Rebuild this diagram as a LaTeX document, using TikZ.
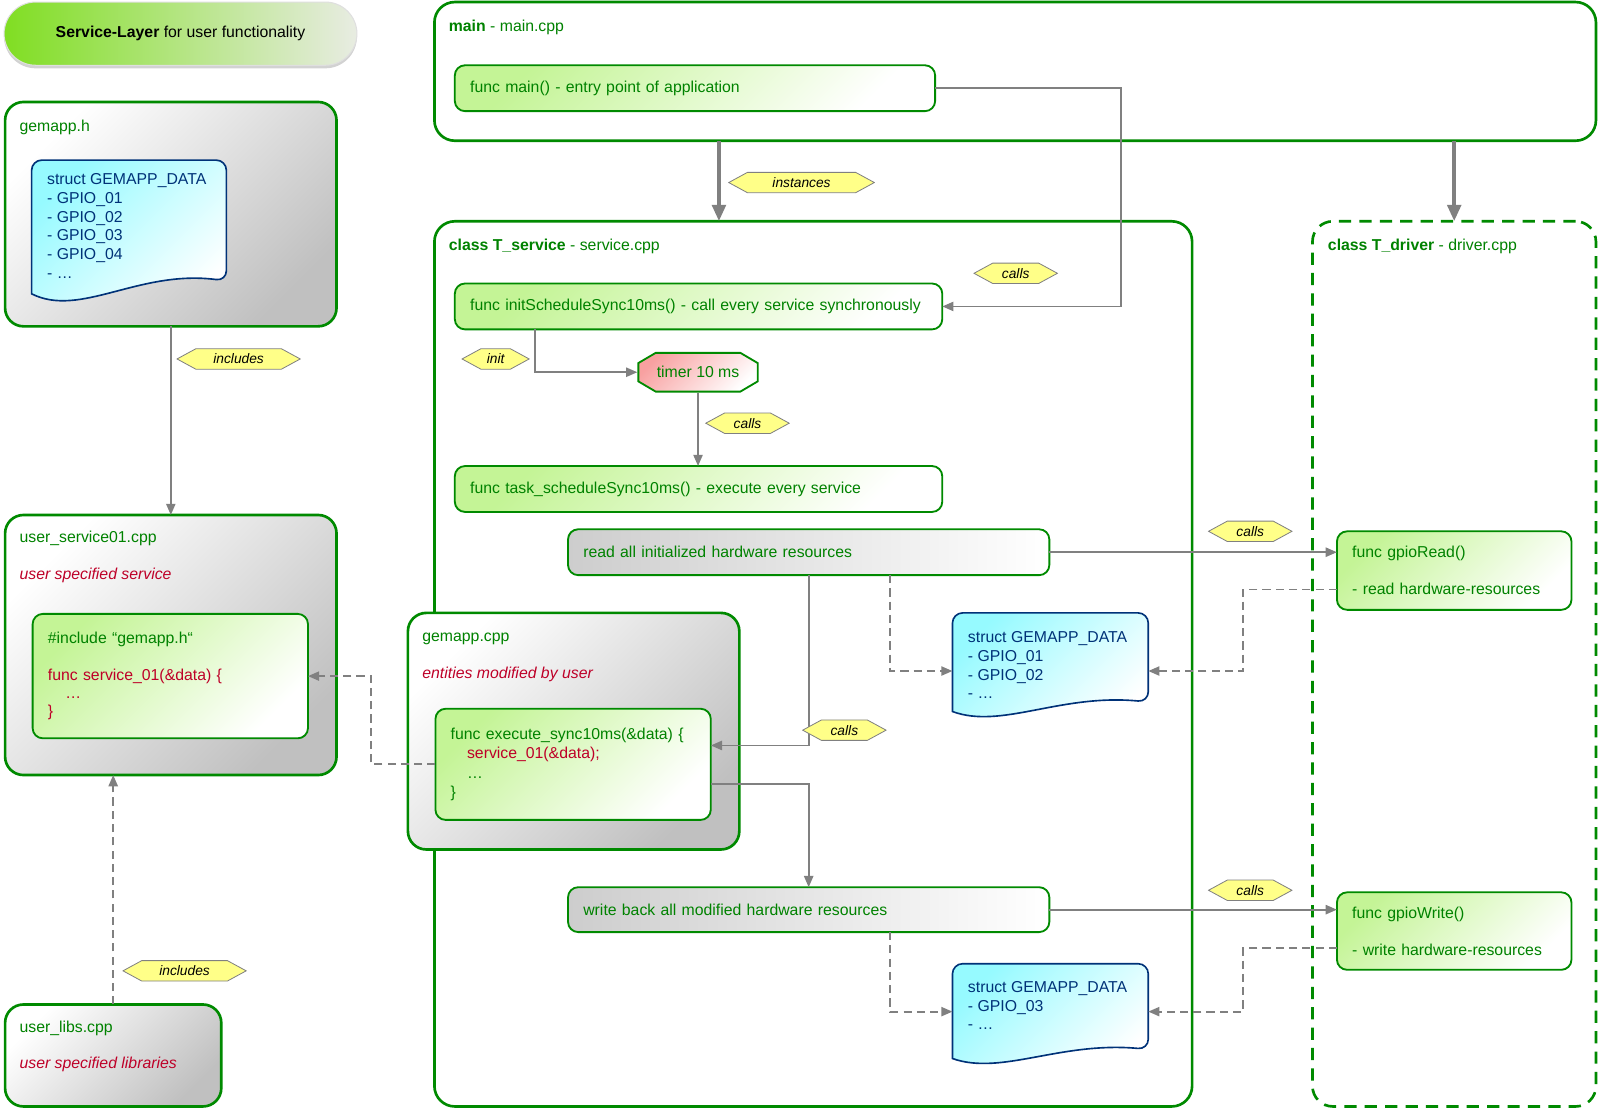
\documentclass[tikz,border=0pt]{standalone}
\usepackage{fontspec}
\setmainfont{Liberation Sans}
\usetikzlibrary{arrows.meta,shadows,calc}
\definecolor{grn}{RGB}{0,138,0}
\definecolor{txtgrn}{RGB}{0,130,0}
\definecolor{ured}{RGB}{190,0,40}
\definecolor{navy}{RGB}{0,50,120}
\definecolor{cyanf}{RGB}{150,250,255}
\definecolor{greenf}{RGB}{196,244,150}
\definecolor{grayf}{RGB}{192,192,192}
\definecolor{barf}{RGB}{205,205,205}
\definecolor{pinkf}{RGB}{248,160,160}
\definecolor{hexf}{RGB}{255,255,136}
\definecolor{connc}{RGB}{128,128,128}
\definecolor{titleL}{RGB}{128,222,34}
\definecolor{titleR}{RGB}{232,236,226}
\newcommand{\myfs}{\fontsize{15.5}{18}\selectfont}
\newcommand{\mylf}{\fontsize{13.5}{16}\selectfont\itshape}
\newcommand{\docshape}[3]{%
  \begin{scope}[shift={(#1.north west)}, x=#2pt, y=-#3pt]
    \shadedraw[draw=navy, line width=1.6pt, top color=cyanf, bottom color=white, shading angle=45]
      (0,0.93) [rounded corners=10pt] -- (0,0) -- (1,0) -- (1,0.84) [sharp corners]
      .. controls (0.55,0.76) and (0.25,1.1) .. (0,0.93) -- cycle;
  \end{scope}}
\tikzset{
  base/.style={inner sep=0pt, outer sep=0pt, anchor=north west},
  graybox/.style={base, rounded corners=18pt, draw=grn, line width=2.6pt, top color=white, bottom color=grayf, shading angle=45},
  container/.style={base, rounded corners=20pt, draw=grn, line width=2.6pt},
  funcbox/.style={base, rounded corners=10pt, draw=grn, line width=1.8pt, top color=greenf, bottom color=white, shading angle=45, inner xsep=15pt, align=left, font=\myfs, text=txtgrn},
  barbox/.style={base, rounded corners=10pt, draw=grn, line width=1.8pt, left color=barf, right color=white, inner xsep=15pt, align=left, font=\myfs, text=txtgrn},
  txt/.style={inner sep=0pt, anchor=west, font=\myfs, text=txtgrn, text height=11pt, text depth=3pt},
  utxt/.style={txt, text=ured, font=\myfs\itshape},
  doctxt/.style={inner sep=0pt, anchor=north west, align=left, font=\fontsize{15.5}{18.4}\selectfont, text=navy},
  connl/.style={draw=connc, line width=1.8pt, -{Triangle[length=11pt,width=9pt]}},
  dconn/.style={connl, dash pattern=on 8pt off 5pt},
  bigconn/.style={draw=connc, line width=4pt, -{Triangle[length=16pt,width=13pt]}},
  hexl/.style={inner sep=0pt, minimum height=21pt, font=\mylf, text=black,
    path picture={
      \draw[draw=connc, fill=hexf, line width=0.8pt]
        ([xshift=0.6pt]path picture bounding box.west)
        -- ([xshift=19pt,yshift=-0.5pt]path picture bounding box.north west)
        -- ([xshift=-19pt,yshift=-0.5pt]path picture bounding box.north east)
        -- ([xshift=-0.6pt]path picture bounding box.east)
        -- ([xshift=-19pt,yshift=0.5pt]path picture bounding box.south east)
        -- ([xshift=19pt,yshift=0.5pt]path picture bounding box.south west) -- cycle;}},
  octo/.style={inner sep=0pt, outer sep=0pt, minimum width=119pt, minimum height=40pt, font=\myfs, text=txtgrn,
    path picture={
      \shadedraw[draw=grn, line width=1.8pt, top color=pinkf, bottom color=white, shading angle=45]
        ([xshift=18pt,yshift=-1pt]path picture bounding box.north west)
        -- ([xshift=-18pt,yshift=-1pt]path picture bounding box.north east)
        -- ([xshift=-1pt,yshift=-11pt]path picture bounding box.north east)
        -- ([xshift=-1pt,yshift=11pt]path picture bounding box.south east)
        -- ([xshift=-18pt,yshift=1pt]path picture bounding box.south east)
        -- ([xshift=18pt,yshift=1pt]path picture bounding box.south west)
        -- ([xshift=1pt,yshift=11pt]path picture bounding box.south west)
        -- ([xshift=1pt,yshift=-11pt]path picture bounding box.north west) -- cycle;}},
}
\begin{document}
\begin{tikzpicture}[x=1pt,y=-1pt]
\fill[white] (0,0) rectangle (1568,1087);
\useasboundingbox (0,0) rectangle (1568,1087);

% title
\node[base, minimum width=346pt, minimum height=62pt, rounded corners=31pt, left color=titleL, right color=titleR,
  draw=white!75!gray, line width=1pt, drop shadow={shadow xshift=0pt, shadow yshift=-3pt, opacity=0.35},
  font=\myfs, text=black] (title) at (4,2) {\textbf{Service-Layer} for user functionality};

% containers
\node[container, minimum width=1139pt, minimum height=136pt] (main) at (426,2) {};
\node[container, minimum width=743pt, minimum height=868pt] (tsvc) at (426,217) {};
\node[container, dash pattern=on 12pt off 8pt, minimum width=278pt, minimum height=868pt] (tdrv) at (1287,217) {};
\node[txt] (maint) at (440,27) {\textbf{main} - main.cpp};
\node[txt] (tsvct) at (440,242) {\textbf{class T\_service} - service.cpp};
\node[txt] (tdrvt) at (1302,242) {\textbf{class T\_driver} - driver.cpp};

% left column
\node[graybox, minimum width=325pt, minimum height=220pt] (gh) at (5,100) {};
\node[txt] (ght) at (19,125) {gemapp.h};
\node[base, minimum width=191pt, minimum height=141pt] (s1) at (31,157) {};
\docshape{s1}{191}{141}
\node[doctxt] (s1t) at (46,170) {struct GEMAPP\_DATA\\- GPIO\_01\\- GPIO\_02\\- GPIO\_03\\- GPIO\_04\\- …};

\node[graybox, minimum width=325pt, minimum height=255pt] (us) at (5,505) {};
\node[txt] (ust) at (19,528) {user\_service01.cpp};
\node[utxt] (usd) at (19,564) {user specified service};
\node[funcbox, text width=240pt, minimum height=122pt] (usf) at (32,602)
  {\#include “gemapp.h“\\[18pt]\color{ured}func service\_01(\&data) \{\\\hspace*{17pt}…\\\}};

\node[graybox, minimum width=212pt, minimum height=100pt] (ul) at (5,985) {};
\node[txt] (ult) at (19,1008) {user\_libs.cpp};
\node[utxt] (uld) at (19,1044) {user specified libraries};

% main
\node[funcbox, text width=441pt, minimum height=45pt] (fmain) at (446,64) {func main() - entry point of application};

% service
\node[funcbox, text width=448pt, minimum height=45pt] (init) at (446,278) {func initScheduleSync10ms() - call every service synchronously};
\node[octo] (timer) at (684.5,365) {timer 10 ms};
\node[funcbox, text width=448pt, minimum height=45pt] (task) at (446,457) {func task\_scheduleSync10ms() - execute every service};
\node[barbox, text width=442pt, minimum height=45pt] (read) at (557,519) {read all initialized hardware resources};
\node[barbox, text width=442pt, minimum height=44pt] (write) at (557,870) {write back all modified hardware resources};

\node[base, minimum width=192pt, minimum height=104pt] (s2) at (934,601) {};
\docshape{s2}{192}{104}
\node[doctxt] (s2t) at (949,619) {struct GEMAPP\_DATA\\- GPIO\_01\\- GPIO\_02\\- …};
\node[base, minimum width=192pt, minimum height=100pt] (s3) at (934,945) {};
\docshape{s3}{192}{100}
\node[doctxt] (s3t) at (949,962) {struct GEMAPP\_DATA\\- GPIO\_03\\- …};

% gemapp.cpp
\node[graybox, minimum width=325pt, minimum height=232pt] (gc) at (400,601) {};
\node[txt] (gct) at (414,625) {gemapp.cpp};
\node[utxt] (gcd) at (414,661) {entities modified by user};
\node[funcbox, text width=240pt, minimum height=109pt, font=\fontsize{15.5}{19}\selectfont] (exec) at (427,695)
  {func execute\_sync10ms(\&data) \{\\\hspace*{16pt}\textcolor{ured}{service\_01(\&data);}\\\hspace*{16pt}…\\\}};

% driver
\node[funcbox, text width=200pt, minimum height=77pt] (gr) at (1311,521) {func gpioRead()\\[18pt]- read hardware-resources};
\node[funcbox, text width=200pt, minimum height=76pt] (gw) at (1311,875) {func gpioWrite()\\[18pt]- write hardware-resources};

% connectors
\draw[connl] (gh.south) -- (us.north);
\draw[dconn] (ul.north) -- (ul.north |- us.south);
\coordinate (mA) at ([xshift=279pt]main.south west);
\draw[bigconn] (mA) -- (mA |- tsvc.north);
\draw[bigconn] (main.south -| tdrv.north) -- (tdrv.north);
\draw[connl] (fmain.east) -| ([xshift=175pt]init.east) -- (init.east);
\draw[connl] ([xshift=79pt]init.south west) |- (timer.west);
\draw[connl] (timer.south) -- (timer.south |- task.north);
\draw[connl] (read.east) -- (read.east -| gr.west);
\draw[connl] ([xshift=236pt]read.south west) |- ([yshift=18.5pt]exec.east);
\draw[dconn] ([xshift=316pt]read.south west) |- ([yshift=-5pt]s2.west);
\draw[dconn] ([yshift=-18.5pt]gr.west) -- ++(-92pt,0) |- ([yshift=-5pt]s2.east);
\draw[dconn] (exec.west) -- ++(-63pt,0) |- (usf.east);
\draw[connl] ([yshift=-19.5pt]exec.east) -| ([xshift=236pt]write.north west);
\draw[connl] (write.east) -- (write.east -| gw.west);
\draw[dconn] ([xshift=316pt]write.south west) |- ([yshift=3pt]s3.west);
\draw[dconn] ([yshift=-17pt]gw.west) -- ++(-92pt,0) |- ([yshift=3pt]s3.east);

% labels
\node[hexl, minimum width=122pt] (lb1) at (234,352) {includes};
\node[hexl, minimum width=122pt] (lb2) at (181,952) {includes};
\node[hexl, minimum width=144pt] (lb3) at (786,179) {instances};
\node[hexl, minimum width=83pt] (lb4) at (996,268) {calls};
\node[hexl, minimum width=67pt] (lb5) at (486,352) {init};
\node[hexl, minimum width=83pt] (lb6) at (733,415) {calls};
\node[hexl, minimum width=83pt] (lb7) at (1226,521) {calls};
\node[hexl, minimum width=83pt] (lb8) at (828,716) {calls};
\node[hexl, minimum width=83pt] (lb9) at (1226,873) {calls};
\end{tikzpicture}
\end{document}
